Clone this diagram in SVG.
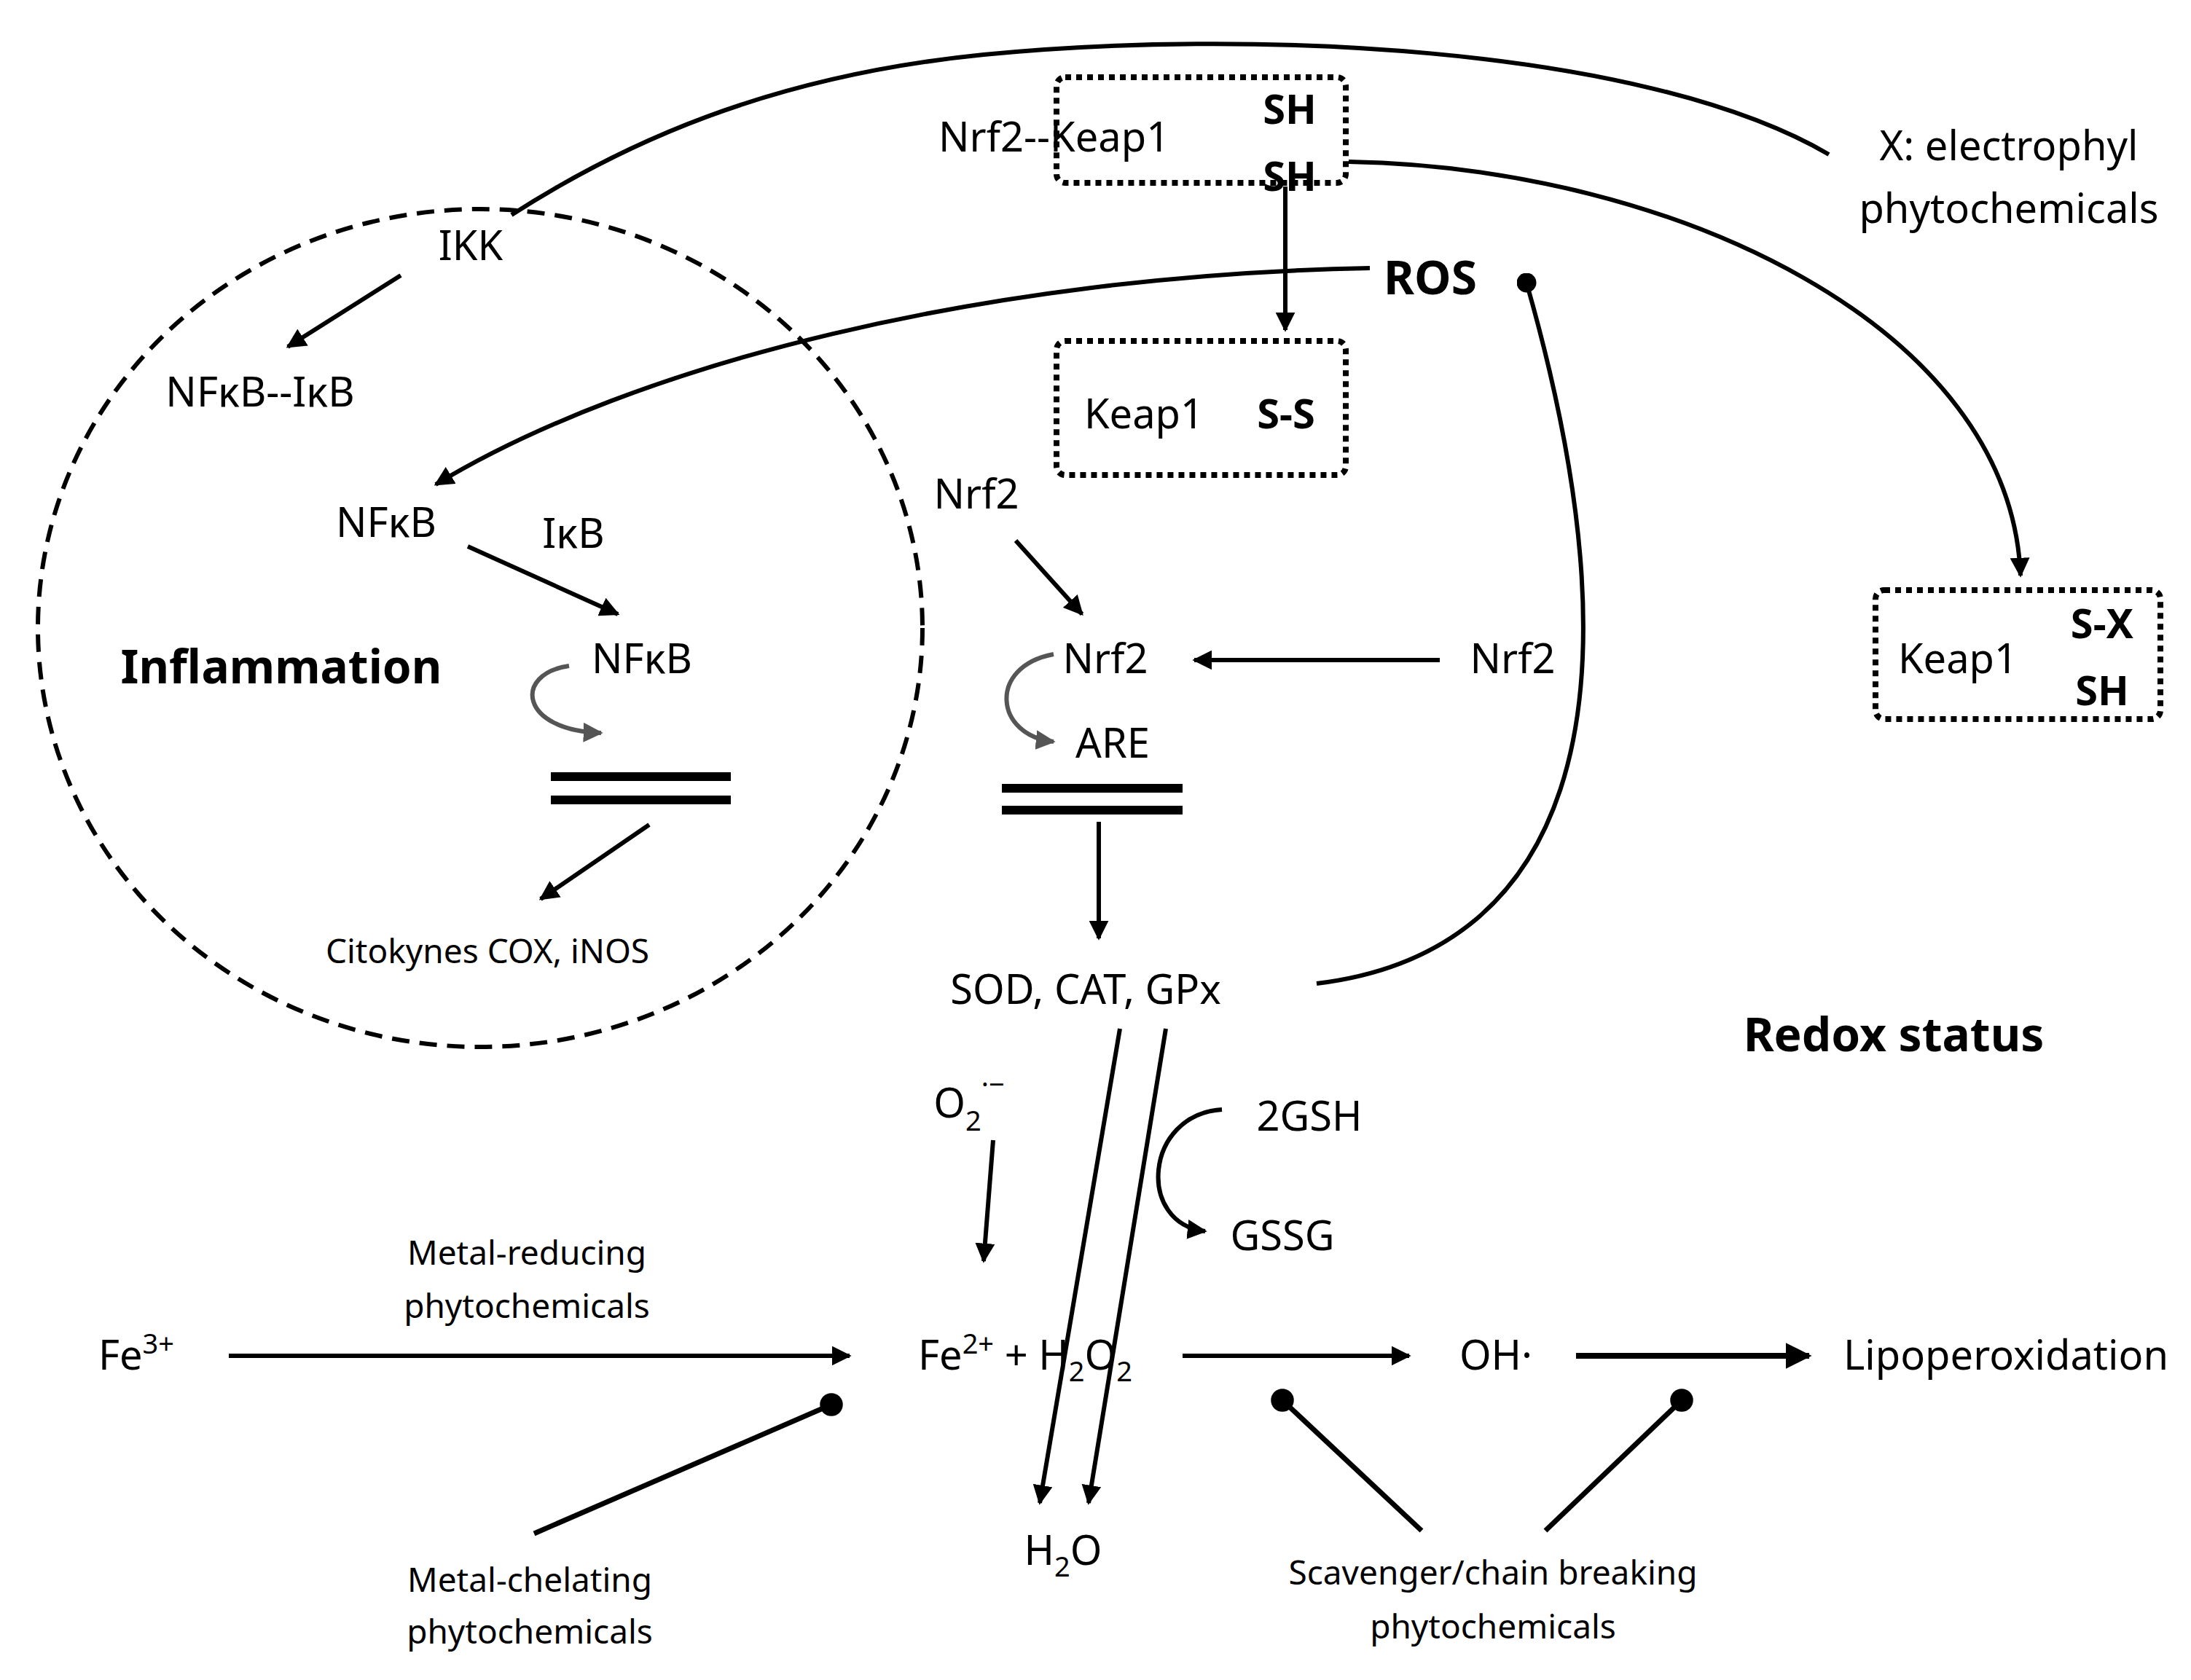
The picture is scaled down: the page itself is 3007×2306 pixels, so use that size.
<svg xmlns="http://www.w3.org/2000/svg" width="3007" height="2306" viewBox="0 0 3007 2306">
<style>
text{font-family:"Noto Sans","Open Sans",sans-serif;font-size:56px;fill:#000;text-anchor:middle}
.b{font-weight:bold;font-size:64px}
.s{font-size:46px}
.ln{fill:none;stroke:#000;stroke-width:6}
.box{fill:none;stroke:#000;stroke-width:8;stroke-dasharray:8 7}
.g{fill:none;stroke:#555;stroke-width:6}
</style>
<defs>
<marker id="a" viewBox="0 0 10 10" refX="9" refY="5" markerWidth="4.5" markerHeight="4.5" orient="auto"><path d="M0,0L10,5L0,10z"/></marker>
<marker id="ag" viewBox="0 0 10 10" refX="9" refY="5" markerWidth="4.5" markerHeight="4.5" orient="auto"><path d="M0,0L10,5L0,10z" fill="#555"/></marker>
<marker id="d" viewBox="0 0 10 10" refX="5" refY="5" markerWidth="4.5" markerHeight="4.5"><circle cx="5" cy="5" r="5"/></marker>
</defs>
<g id="inflammation-circle"><ellipse cx="659" cy="862" rx="607" ry="575" fill="none" stroke="#000" stroke-width="6" stroke-dasharray="24 14"/></g>
<g id="box-nrf2keap1"><rect x="1450" y="106" width="397" height="145" rx="12" class="box"/>
<text x="1288" y="208" style="text-anchor:start">Nrf2--Keap1</text>
<text x="1770" y="170" class="b" style="font-size:56px">SH</text><text x="1770" y="262" class="b" style="font-size:56px">SH</text></g>
<g id="box-ss"><rect x="1450" y="468" width="397" height="184" rx="12" class="box"/>
<text x="1570" y="588">Keap1</text><text x="1765" y="588" class="b" style="font-size:56px">S-S</text></g>
<g id="box-sx"><rect x="2574" y="810" width="391" height="177" rx="12" class="box"/>
<text x="2687" y="924">Keap1</text><text x="2885" y="876" class="b" style="font-size:56px">S-X</text><text x="2885" y="968" class="b" style="font-size:56px">SH</text></g>
<g id="labels">
<text x="2757" y="220">X: electrophyl</text><text x="2757" y="306">phytochemicals</text>
<text x="646" y="357">IKK</text>
<text x="357" y="558">NFκB--IκB</text>
<text x="530" y="737">NFκB</text>
<text x="787" y="752">IκB</text>
<text x="386" y="938" class="b">Inflammation</text>
<text x="881" y="924">NFκB</text>
<text x="669" y="1322" class="s">Citokynes COX, iNOS</text>
<text x="1963" y="404" class="b">ROS</text>
<text x="1340" y="698">Nrf2</text>
<text x="1517" y="924">Nrf2</text>
<text x="1527" y="1040">ARE</text>
<text x="2076" y="924">Nrf2</text>
<text x="1490" y="1378">SOD, CAT, GPx</text>
<text x="2599" y="1443" class="b">Redox status</text>
<text x="1330" y="1534">O<tspan font-size="38" dy="18">2</tspan><tspan font-size="38" dy="-50">·−</tspan></text>
<text x="1797" y="1552">2GSH</text>
<text x="1760" y="1716">GSSG</text>
<text x="187" y="1880">Fe<tspan font-size="38" dy="-22">3+</tspan></text>
<text x="723" y="1736" class="s">Metal-reducing</text><text x="723" y="1809" class="s">phytochemicals</text>
<text x="1407" y="1880">Fe<tspan font-size="38" dy="-22">2+</tspan><tspan dy="22"> + H</tspan><tspan font-size="38" dy="16">2</tspan><tspan dy="-16">O</tspan><tspan font-size="38" dy="16">2</tspan></text>
<text x="2053" y="1880">OH·</text>
<text x="2753" y="1880">Lipoperoxidation</text>
<text x="727" y="2185" class="s">Metal-chelating</text><text x="727" y="2256" class="s">phytochemicals</text>
<text x="1459" y="2148">H<tspan font-size="38" dy="16">2</tspan><tspan dy="-16">O</tspan></text>
<text x="2049" y="2175" class="s">Scavenger/chain breaking</text><text x="2049" y="2249" class="s">phytochemicals</text>
</g>
<g id="bars">
<path d="M756,1066H1003M756,1098H1003M1375,1082H1623M1375,1112H1623" stroke="#000" stroke-width="12"/>
</g>
<g id="connectors">
<path class="ln" d="M2510,212C2250,60 1700,40 1350,75C1050,105 850,200 702,295"/>
<path class="ln" d="M1851,222C2300,230 2760,450 2773,790" marker-end="url(#a)"/>
<path class="ln" d="M1764,256V453" marker-end="url(#a)"/>
<path class="ln" d="M1880,368C1350,378 870,500 598,665" marker-end="url(#a)"/>
<path class="ln" d="M1807,1350C2140,1310 2270,1000 2095,388" marker-end="url(#d)"/>
<path class="ln" d="M550,378L395,476" marker-end="url(#a)"/>
<path class="ln" d="M642,750L848,843" marker-end="url(#a)"/>
<path class="ln" d="M891,1132L742,1234" marker-end="url(#a)"/>
<path class="g" d="M781,914C704,925 713,1003 825,1006" marker-end="url(#ag)"/>
<path class="ln" d="M1394,742L1485,843" marker-end="url(#a)"/>
<path class="ln" d="M1976,906H1639" marker-end="url(#a)"/>
<path class="g" d="M1446,898C1355,915 1365,1010 1446,1018" marker-end="url(#ag)"/>
<path class="ln" d="M1508,1128V1288" marker-end="url(#a)"/>
<path class="ln" d="M1537,1412L1427,2063" marker-end="url(#a)"/>
<path class="ln" d="M1600,1412L1494,2063" marker-end="url(#a)"/>
<path class="ln" d="M1363,1565L1350,1731" marker-end="url(#a)"/>
<path class="ln" d="M1677,1523C1570,1530 1560,1680 1654,1690" marker-end="url(#a)"/>
<path class="ln" d="M314,1861H1166" marker-end="url(#a)"/>
<path class="ln" d="M1623,1861H1934" marker-end="url(#a)"/>
<path class="ln" style="stroke-width:8" d="M2163,1861H2483" marker-end="url(#a)"/>
<path class="ln" style="stroke-width:7" d="M733,2105L1141,1928" marker-end="url(#d)"/>
<path class="ln" style="stroke-width:7" d="M1951,2101L1760,1922" marker-end="url(#d)"/>
<path class="ln" style="stroke-width:7" d="M2121,2101L2308,1922" marker-end="url(#d)"/>
</g>
</svg>
